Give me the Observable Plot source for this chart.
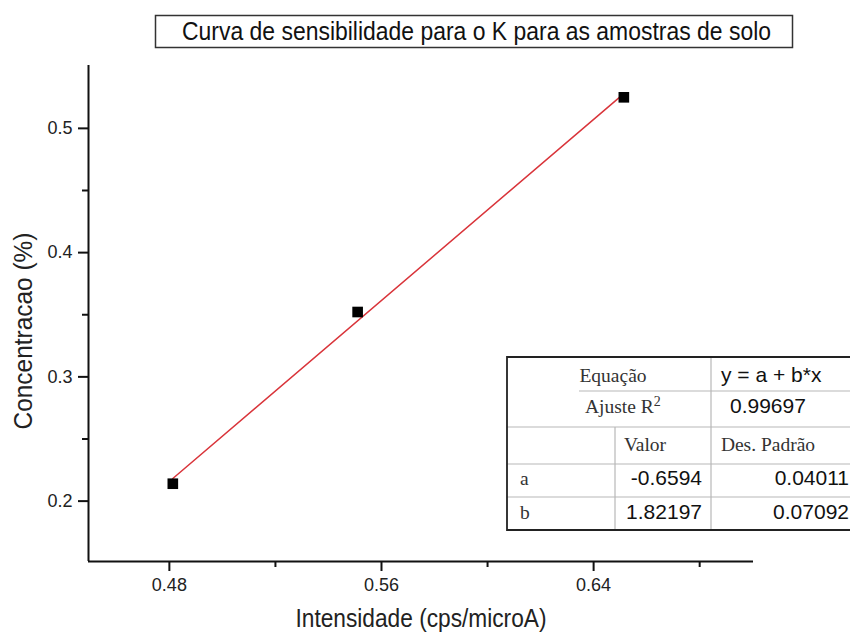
<!DOCTYPE html>
<html>
<head>
<meta charset="utf-8">
<script src="https://cdn.jsdelivr.net/npm/d3@7"></script>
<script src="https://cdn.jsdelivr.net/npm/@observablehq/plot@0.6"></script>
<style>
  body { margin: 0; background: #fff; }
  #wrap { position: relative; width: 850px; height: 635px; overflow: hidden; }
  #wrap svg { position: absolute; left: 0; top: 0; }
</style>
</head>
<body>
<div id="wrap"></div>
<script>
// ---- data ----
const intensidade = [0.4813, 0.5510, 0.6514];      // x (cps/microA)
const concentracao = [0.2140, 0.3522, 0.5250];     // y (%)
const xDomain = [0.4495, 0.7003];
const yDomain = [0.1514, 0.5506];
const xMajorTicks = [0.48, 0.56, 0.64];
const xMinorTicks = [0.52, 0.60, 0.68];
const yMajorTicks = [0.2, 0.3, 0.4, 0.5];
const yMinorTicks = [0.25, 0.35, 0.45];

const chartTitle = "Curva de sensibilidade para o K para as amostras de solo";
const xLabel = "Intensidade (cps/microA)";
const yLabel = "Concentracao (%)";

// fit table
const eqLabel = "Equação";
const eqText = "y = a + b*x";
const r2Label = "Ajuste R";
const r2Value = "0.99697";
const colHeaders = ["Valor", "Des. Padrão"];
const paramNames = ["a", "b"];
const paramValues = ["-0.6594", "1.82197"];
const paramErrors = ["0.04011", "0.07092"];

(function () {
const points = intensidade.map((x, i) => ({x, y: concentracao[i]}));

const W = 850, H = 635;
const plot = Plot.plot({
  width: W,
  height: H,
  marginLeft: 88,
  marginRight: 97,
  marginTop: 65,
  marginBottom: 74,
  style: {fontFamily: "'Liberation Sans', Arial, sans-serif", fontSize: "18px", color: "#222", background: "transparent"},
  x: {domain: xDomain, label: null},
  y: {domain: yDomain, label: null},
  marks: [
    Plot.ruleX([xDomain[0]], {stroke: "#111", strokeWidth: 2, y1: yDomain[0], y2: yDomain[1]}),
    Plot.ruleY([yDomain[0]], {stroke: "#111", strokeWidth: 2}),
    Plot.axisX(xMajorTicks, {tickSize: 10, tickPadding: 7, strokeWidth: 2, stroke: "#111", label: null, tickFormat: d => d.toFixed(2), fill: "#222", fontSize: 18}),
    Plot.axisX(xMinorTicks, {tickSize: 6, strokeWidth: 2, stroke: "#111", label: null, tickFormat: () => ""}),
    Plot.axisY(yMajorTicks, {tickSize: 10, tickPadding: 6, strokeWidth: 2, stroke: "#111", label: null, tickFormat: d => d.toFixed(1), fill: "#222", fontSize: 18}),
    Plot.axisY(yMinorTicks, {tickSize: 6, strokeWidth: 2, stroke: "#111", label: null, tickFormat: () => ""}),
    Plot.linearRegressionY(points, {x: "x", y: "y", ci: 0, stroke: "#d9343a", strokeWidth: 1.5}),
    Plot.dot(points, {x: "x", y: "y", symbol: "square", r: 6, fill: "#000", stroke: "none"})
  ]
});
document.getElementById("wrap").appendChild(plot);

// ---- overlay: title, axis titles, fit table ----
const ov = d3.select("#wrap").append("svg")
  .attr("width", W).attr("height", H)
  .style("font-family", "'Liberation Sans', Arial, sans-serif");

// title box
ov.append("rect").attr("x", 155.5).attr("y", 15.5).attr("width", 637).attr("height", 32)
  .attr("fill", "#fff").attr("stroke", "#333").attr("stroke-width", 1.5);
ov.append("text").attr("x", 476.5).attr("y", 40).attr("text-anchor", "middle")
  .attr("font-size", 25).attr("fill", "#111")
  .attr("textLength", 589).attr("lengthAdjust", "spacingAndGlyphs")
  .text(chartTitle);

// axis titles
ov.append("text").attr("x", 421).attr("y", 627).attr("text-anchor", "middle")
  .attr("font-size", 25).attr("fill", "#222")
  .attr("textLength", 251).attr("lengthAdjust", "spacingAndGlyphs")
  .text(xLabel);
ov.append("text").attr("transform", "translate(32,331) rotate(-90)").attr("text-anchor", "middle")
  .attr("font-size", 25).attr("fill", "#222")
  .attr("textLength", 197).attr("lengthAdjust", "spacingAndGlyphs")
  .text(yLabel);

// table
const T = ov.append("g");
const tL = 507, tR = 852, tTop = 357, tBot = 530;
const rows = [391, 427, 464, 497];
const c1 = 615, c2 = 711;
T.append("rect").attr("x", tL).attr("y", tTop).attr("width", tR - tL).attr("height", tBot - tTop).attr("fill", "#fff");
const grid = "#b8b8b8";
T.append("line").attr("x1", 579).attr("x2", tR).attr("y1", rows[0]).attr("y2", rows[0]).attr("stroke", grid).attr("stroke-width", 1.2);
rows.slice(1).forEach(y => T.append("line").attr("x1", tL).attr("x2", tR).attr("y1", y).attr("y2", y).attr("stroke", grid).attr("stroke-width", 1.2));
T.append("line").attr("x1", c2).attr("x2", c2).attr("y1", tTop).attr("y2", tBot).attr("stroke", grid).attr("stroke-width", 1.2);
T.append("line").attr("x1", c1).attr("x2", c1).attr("y1", rows[1]).attr("y2", tBot).attr("stroke", grid).attr("stroke-width", 1.2);
T.append("path").attr("d", `M${tR},${tTop}H${tL}V${tBot}H${tR}`).attr("fill", "none").attr("stroke", "#222").attr("stroke-width", 1.8);

const serif = "'Liberation Serif', 'Times New Roman', serif";
const sans = "'Liberation Sans', Arial, sans-serif";
function txt(x, y, s, font, size, anchor, fill) {
  return T.append("text").attr("x", x).attr("y", y).attr("font-family", font).attr("font-size", size)
    .attr("text-anchor", anchor || "start").attr("fill", fill || "#111").text(s);
}
txt(613, 382, eqLabel, serif, 19.5, "middle", "#333");
txt(721, 382, eqText, sans, 21);
const r2t = txt(585, 413, r2Label, serif, 19.5, "start", "#333");
r2t.append("tspan").attr("font-size", 14).attr("dy", -7).text("2");
txt(730, 413, r2Value, sans, 21);
txt(645, 451, colHeaders[0], serif, 19.5, "middle", "#333");
txt(768, 451, colHeaders[1], serif, 19.5, "middle", "#333");
paramNames.forEach((p, i) => {
  const y = [485, 519][i];
  txt(520, y, p, serif, 19.5, "start", "#333");
  txt(702, y, paramValues[i], sans, 21, "end");
  txt(849, y, paramErrors[i], sans, 21, "end");
});
})();
</script>
</body>
</html>
